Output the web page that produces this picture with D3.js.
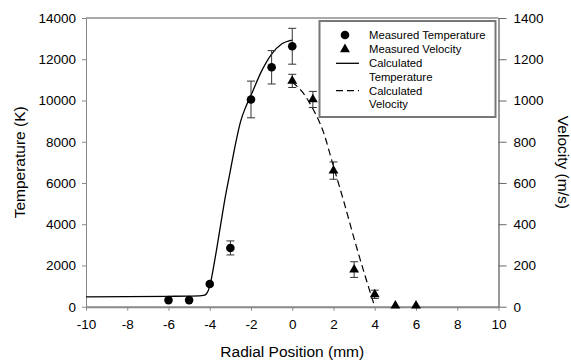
<!DOCTYPE html>
<html>
<head>
<meta charset="utf-8">
<script src="https://cdn.jsdelivr.net/npm/d3@7/dist/d3.min.js"></script>
<style>
  html, body { margin: 0; padding: 0; background: #fff; }
  svg { display: block; font-family: "Liberation Sans", Arial, sans-serif; }
</style>
</head>
<body>
<svg id="chart" width="571" height="360"></svg>
<script>
// Measured temperature (K) with error bars
const tempX = [-6, -5, -4, -3, -2, -1, 0];
const tempY = [320, 320, 1100, 2850, 10050, 11610, 12630];
const tempErr = [0, 0, 0, 340, 890, 810, 870];

// Measured velocity (m/s) with error bars
const velX = [0, 1, 2, 3, 4, 5, 6];
const velY = [1095, 1005, 660, 180, 60, 5, 5];
const velErr = [32, 39, 42, 38, 20, 0, 0];

// Calculated temperature profile
const calcTempX = [-10, -8, -6, -5, -4.5, -4.3, -4.15, -4.0, -3.75, -3.5, -3.25, -3.0, -2.75, -2.5, -2.25, -2.0, -1.5, -1.0, -0.5, 0];
const calcTempY = [480, 490, 505, 515, 525, 545, 640, 1000, 2300, 3800, 5300, 6600, 7900, 9000, 9700, 10250, 11400, 12250, 12750, 12930];

// Calculated velocity profile
const calcVelX = [0, 0.5, 1, 1.5, 2, 2.5, 3, 3.5, 4];
const calcVelY = [1090, 1040, 960, 850, 680, 510, 330, 160, 0];

// Axis ticks
const xTicks = [-10, -8, -6, -4, -2, 0, 2, 4, 6, 8, 10];
const tempTicks = [0, 2000, 4000, 6000, 8000, 10000, 12000, 14000];
const velTicks = [0, 200, 400, 600, 800, 1000, 1200, 1400];

// Legend entries
const legendLabels = [["Measured Temperature"], ["Measured Velocity"], ["Calculated", "Temperature"], ["Calculated", "Velocity"]];

const svg = d3.select("#chart");
const plotL = 86, plotR = 498.5, plotT = 18, plotB = 306.7;

const x = d3.scaleLinear().domain([-10, 10]).range([plotL, plotR]);
const yT = d3.scaleLinear().domain([0, 14000]).range([plotB, plotT]);
const yV = d3.scaleLinear().domain([0, 1400]).range([plotB, plotT]);

const plain = d => String(d);

// frame: top border
svg.append("line").attr("x1", plotL).attr("x2", plotR).attr("y1", plotT).attr("y2", plotT)
  .attr("stroke", "#555").attr("stroke-width", 1);

// left axis
const gL = svg.append("g").attr("transform", `translate(${plotL},0)`)
  .call(d3.axisLeft(yT).tickValues(tempTicks).tickSize(4).tickPadding(6).tickSizeOuter(0).tickFormat(plain));
gL.select(".domain").attr("stroke", "#888");
gL.selectAll(".tick line").attr("stroke", "#888");
gL.selectAll(".tick text").attr("font-size", 13.5).attr("fill", "#000")
  .attr("font-family", "'Liberation Sans', Arial, sans-serif");

// right axis
const gR = svg.append("g").attr("transform", `translate(${plotR},0)`)
  .call(d3.axisRight(yV).tickValues(velTicks).tickSize(8).tickPadding(7).tickSizeOuter(0).tickFormat(plain));
gR.select(".domain").attr("stroke", "#333");
gR.selectAll(".tick line").attr("stroke", "#666");
gR.selectAll(".tick text").attr("font-size", 13.5).attr("fill", "#000")
  .attr("font-family", "'Liberation Sans', Arial, sans-serif");

// bottom axis
const gB = svg.append("g").attr("transform", `translate(0,${plotB})`)
  .call(d3.axisBottom(x).tickValues(xTicks).tickSize(4).tickPadding(9).tickSizeOuter(0).tickFormat(plain));
gB.select(".domain").attr("stroke", "#888").attr("stroke-width", 2);
gB.selectAll(".tick line").attr("stroke", "#888");
gB.selectAll(".tick text").attr("font-size", 13.5).attr("fill", "#000")
  .attr("font-family", "'Liberation Sans', Arial, sans-serif");

// axis titles
svg.append("text").attr("x", (plotL + plotR) / 2).attr("y", 357).attr("text-anchor", "middle")
  .attr("font-size", 15.5).text("Radial Position (mm)");
svg.append("text").attr("transform", `translate(25,${(plotT + plotB) / 2}) rotate(-90)`)
  .attr("text-anchor", "middle").attr("font-size", 15.5).text("Temperature (K)");
svg.append("text").attr("transform", `translate(558,${(plotT + plotB) / 2}) rotate(90)`)
  .attr("text-anchor", "middle").attr("font-size", 15.5).text("Velocity (m/s)");

// calculated curves
const tempLine = d3.line().x(d => x(d[0])).y(d => yT(d[1])).curve(d3.curveMonotoneX);
svg.append("path").datum(d3.zip(calcTempX, calcTempY)).attr("d", tempLine)
  .attr("fill", "none").attr("stroke", "#000").attr("stroke-width", 1.3);

const velLine = d3.line().x(d => x(d[0])).y(d => yV(d[1])).curve(d3.curveMonotoneX);
svg.append("path").datum(d3.zip(calcVelX, calcVelY)).attr("d", velLine)
  .attr("fill", "none").attr("stroke", "#000").attr("stroke-width", 1.2).attr("stroke-dasharray", "7,4");

// error bars
function errorBars(xs, ys, es, yScale) {
  const g = svg.append("g").attr("stroke", "#333").attr("stroke-width", 1);
  xs.forEach((xv, i) => {
    if (!es[i]) return;
    const cx = x(xv), y1 = yScale(ys[i] - es[i]), y2 = yScale(ys[i] + es[i]);
    g.append("line").attr("x1", cx).attr("x2", cx).attr("y1", y1).attr("y2", y2);
    g.append("line").attr("x1", cx - 4).attr("x2", cx + 4).attr("y1", y1).attr("y2", y1);
    g.append("line").attr("x1", cx - 4).attr("x2", cx + 4).attr("y1", y2).attr("y2", y2);
  });
}
errorBars(tempX, tempY, tempErr, yT);
errorBars(velX, velY, velErr, yV);

// measured points
svg.append("g").selectAll("circle").data(d3.zip(tempX, tempY)).join("circle")
  .attr("cx", d => x(d[0])).attr("cy", d => yT(d[1])).attr("r", 4.3).attr("fill", "#000");

const tri = d3.symbol().type(d3.symbolTriangle).size(42);
svg.append("g").selectAll("path").data(d3.zip(velX, velY)).join("path")
  .attr("transform", d => `translate(${x(d[0])},${yV(d[1])})`).attr("d", tri).attr("fill", "#000");

// legend
const lg = svg.append("g");
lg.append("rect").attr("x", 319.5).attr("y", 21).attr("width", 176).attr("height", 96)
  .attr("fill", "#fff").attr("stroke", "#777").attr("stroke-width", 2);
const symX = 345, lx1 = 336, lx2 = 359, tx = 369;
const rowY = [35, 49.3, 63.3, 90.7];
lg.append("circle").attr("cx", symX).attr("cy", rowY[0]).attr("r", 4.3).attr("fill", "#000");
lg.append("path").attr("transform", `translate(${symX},${rowY[1]})`).attr("d", tri).attr("fill", "#000");
lg.append("line").attr("x1", lx1).attr("x2", lx2).attr("y1", rowY[2]).attr("y2", rowY[2])
  .attr("stroke", "#000").attr("stroke-width", 1.3);
lg.append("line").attr("x1", lx1).attr("x2", lx2).attr("y1", rowY[3]).attr("y2", rowY[3])
  .attr("stroke", "#000").attr("stroke-width", 1.2).attr("stroke-dasharray", "7,4");
legendLabels.forEach((lines, i) => {
  lines.forEach((t, j) => {
    lg.append("text").attr("x", tx).attr("y", rowY[i] + 4.1 + j * 13.5)
      .attr("font-size", 11.3).attr("fill", "#000").text(t);
  });
});
</script>
</body>
</html>
